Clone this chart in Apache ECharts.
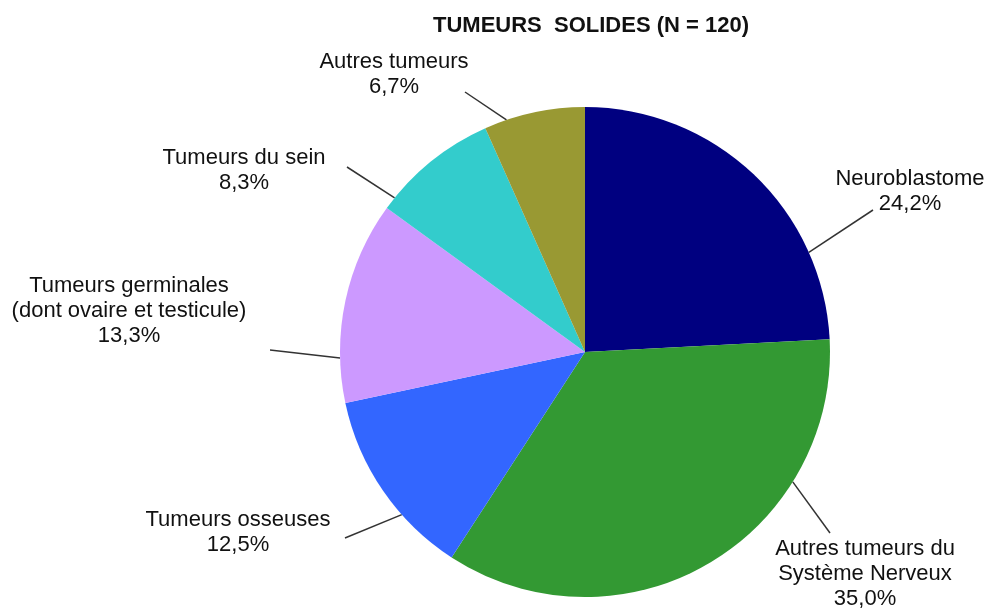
<!DOCTYPE html>
<html>
<head>
<meta charset="utf-8">
<script src="https://cdn.jsdelivr.net/npm/echarts@6/dist/echarts.min.js"></script>
<style>
  html, body { margin: 0; padding: 0; background: #fff; }
  #pie { width: 992px; height: 608px; }
</style>
</head>
<body>
<div id="pie"></div>
<script>
// effectifs par type de tumeur (N = 120)
const categories = [
  "Neuroblastome",
  "Autres tumeurs du\nSystème Nerveux",
  "Tumeurs osseuses",
  "Tumeurs germinales\n(dont ovaire et testicule)",
  "Tumeurs du sein",
  "Autres tumeurs"
];
const counts = [29, 42, 15, 16, 10, 8];
const colors = ["#000080", "#339933", "#3366FF", "#CC99FF", "#33CCCC", "#999933"];
// position of each label (text centre x, top y)
const labelPos = [[910, 166], [865, 536], [238, 507], [129, 273], [244, 145], [394, 49]];
// leader lines: start next to the label, end on the pie edge at the given angle (deg)
const leaderStart = [[873, 210], [830, 533], [345, 538], [270, 350], [347, 167], [465, 92]];
const leaderAngle = [24, -32, 221.6, 181.4, 141, 108.7];

const pieCenter = [585, 352];
const pieRadius = 245;

let myChart = echarts.init(document.getElementById("pie"));
const textColor = "#111";
let option = {
  animation: false,
  title: {
    text: "TUMEURS  SOLIDES (N = 120)",
    left: 433,
    top: 15,
    padding: 0,
    textStyle: {
      fontFamily: "Liberation Sans",
      fontSize: 22,
      fontWeight: "bold",
      color: "#111"
    }
  },
  series: [
    {
      type: "pie",
      center: pieCenter,
      radius: pieRadius,
      startAngle: 90,
      clockwise: true,
      data: categories.map((name, i) => ({
        name: name,
        value: counts[i],
        itemStyle: { color: colors[i] }
      })),
      label: {
        show: true,
        fontFamily: "Liberation Sans",
        fontSize: 22,
        lineHeight: 25,
        color: textColor,
        formatter: p => p.name + "\n" + p.percent.toFixed(1).replace(".", ",") + "%"
      },
      labelLine: {
        show: true,
        lineStyle: { color: "#333", width: 1.5 }
      },
      labelLayout: p => {
        const i = p.dataIndex;
        const a = leaderAngle[i] * Math.PI / 180;
        return {
          x: labelPos[i][0],
          y: labelPos[i][1],
          align: "center",
          verticalAlign: "top",
          labelLinePoints: [
            leaderStart[i],
            [pieCenter[0] + pieRadius * Math.cos(a), pieCenter[1] - pieRadius * Math.sin(a)]
          ]
        };
      }
    }
  ]
};
myChart.setOption(option);
</script>
</body>
</html>
